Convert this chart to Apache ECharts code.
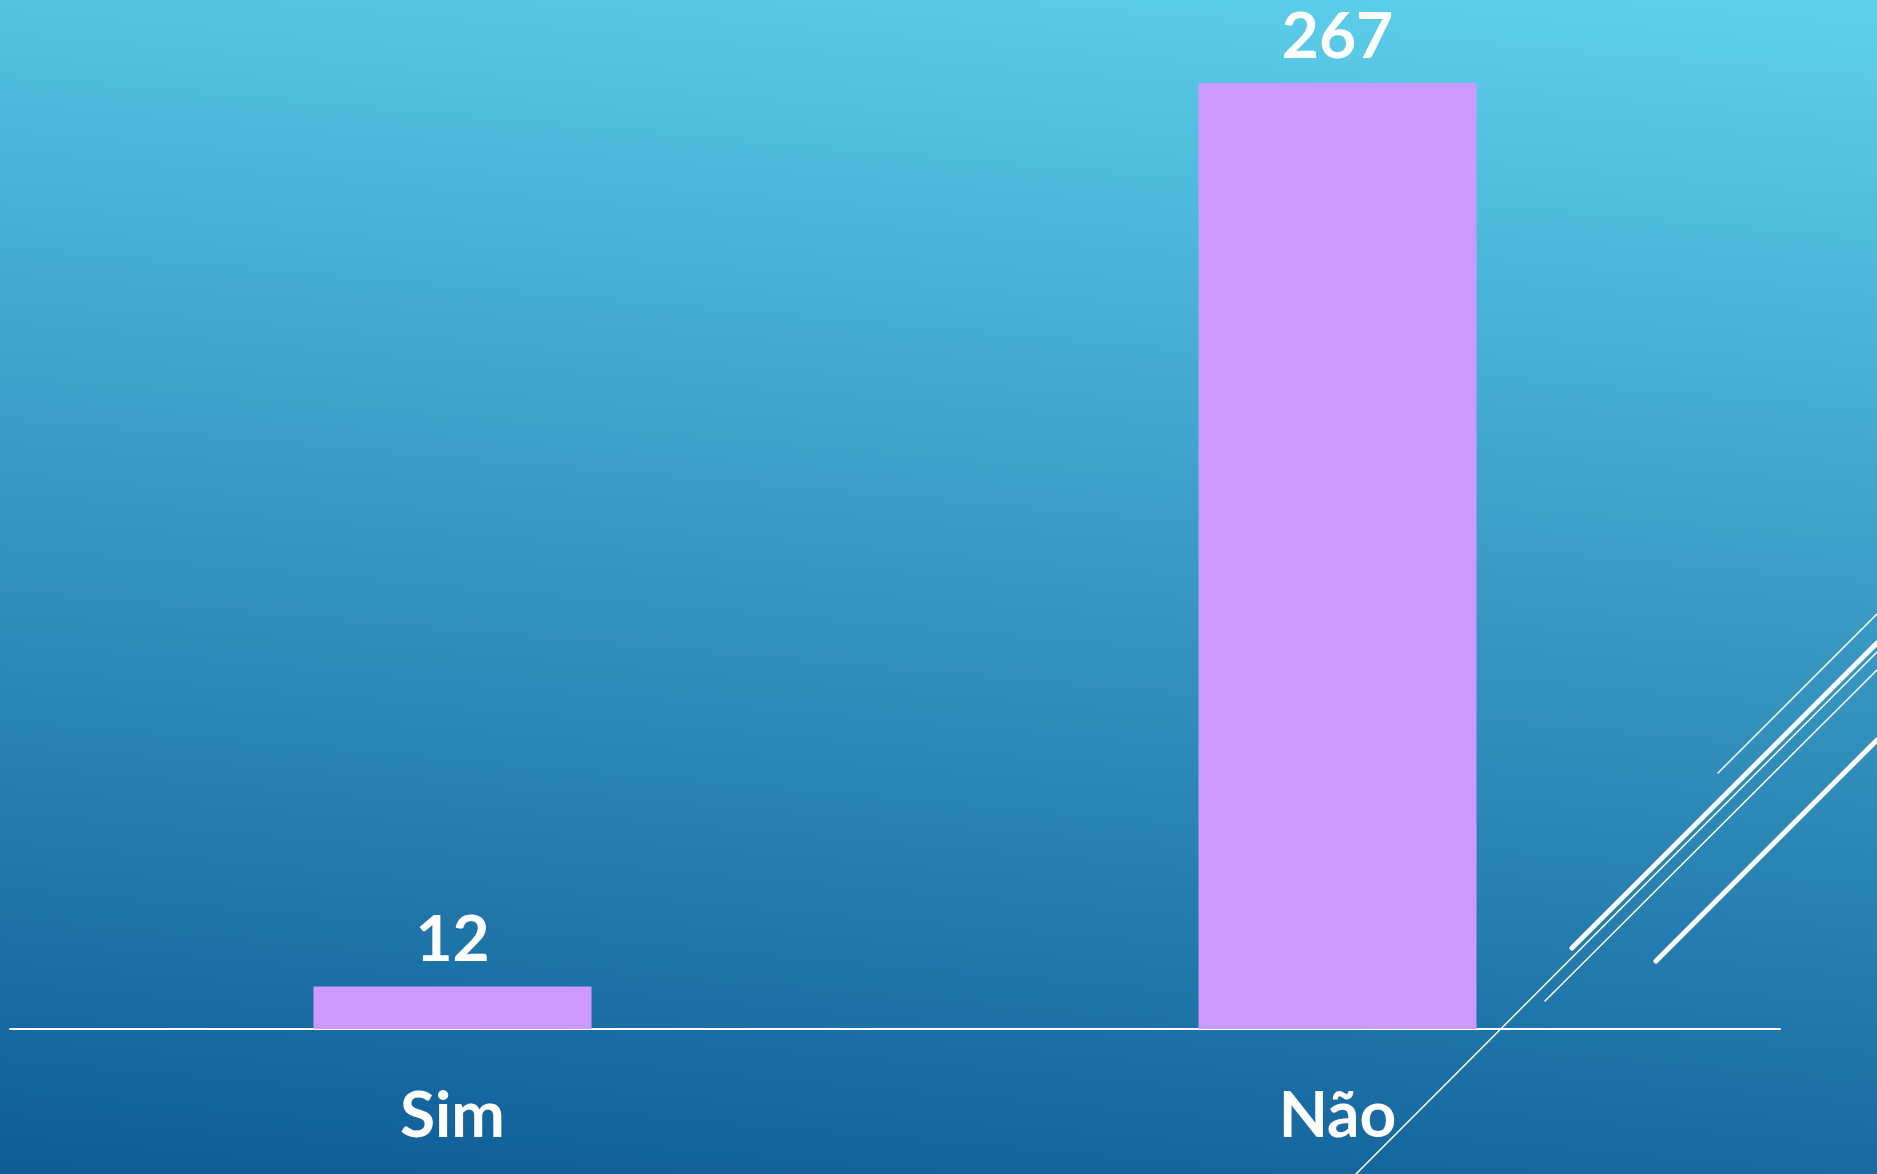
<!DOCTYPE html>
<html>
<head>
<meta charset="utf-8">
<script src="https://cdn.jsdelivr.net/npm/echarts@6/dist/echarts.min.js"></script>
<style>
  html, body { margin: 0; padding: 0; }
  #chart {
    width: 1877px; height: 1174px;
    background: linear-gradient(185deg, #5ed1ec 0%, #3696c1 50%, #0e5c97 100%);
  }
</style>
</head>
<body>
<div id="chart"></div>
<script>
// categorias e valores
const categories = ['Sim', 'Não']
const values = [12, 267]

const chart = echarts.init(document.getElementById('chart'), null, { renderer: 'canvas' })

const font = 'Lato, "Noto Sans", sans-serif'
const deco = (x1, y1, x2, y2, w) => ({
  type: 'line', silent: true,
  shape: { x1, y1, x2, y2 },
  style: { stroke: '#ffffff', lineWidth: w, lineCap: 'round' },
})

chart.setOption({
  backgroundColor: 'transparent',
  animation: false,
  grid: { left: 10, right: 97, top: 83, bottom: 145 },
  xAxis: {
    type: 'category', data: categories,
    axisLine: { show: true, lineStyle: { color: '#ffffff', width: 2 } },
    axisTick: { show: false },
    axisLabel: { color: '#ffffff', fontSize: 64, fontWeight: 'bold', fontFamily: font, margin: 55 },
  },
  yAxis: { type: 'value', min: 0, max: 267, show: false, splitLine: { show: false } },
  series: [{
    type: 'bar', data: values,
    barWidth: 278,
    itemStyle: { color: '#cc99ff' },
    label: {
      show: true, position: 'top', distance: 14,
      color: '#ffffff', fontSize: 64, fontWeight: 'bold', fontFamily: font,
    },
  }],
  graphic: [
    deco(1356, 1174, 1877, 652, 1.5),
    deco(1718, 773, 1877, 614, 1.5),
    deco(1572, 948, 1877, 643, 5),
    deco(1545, 1001, 1877, 670, 1.5),
    deco(1656, 961, 1877, 740, 5),
  ],
})
</script>
</body>
</html>
